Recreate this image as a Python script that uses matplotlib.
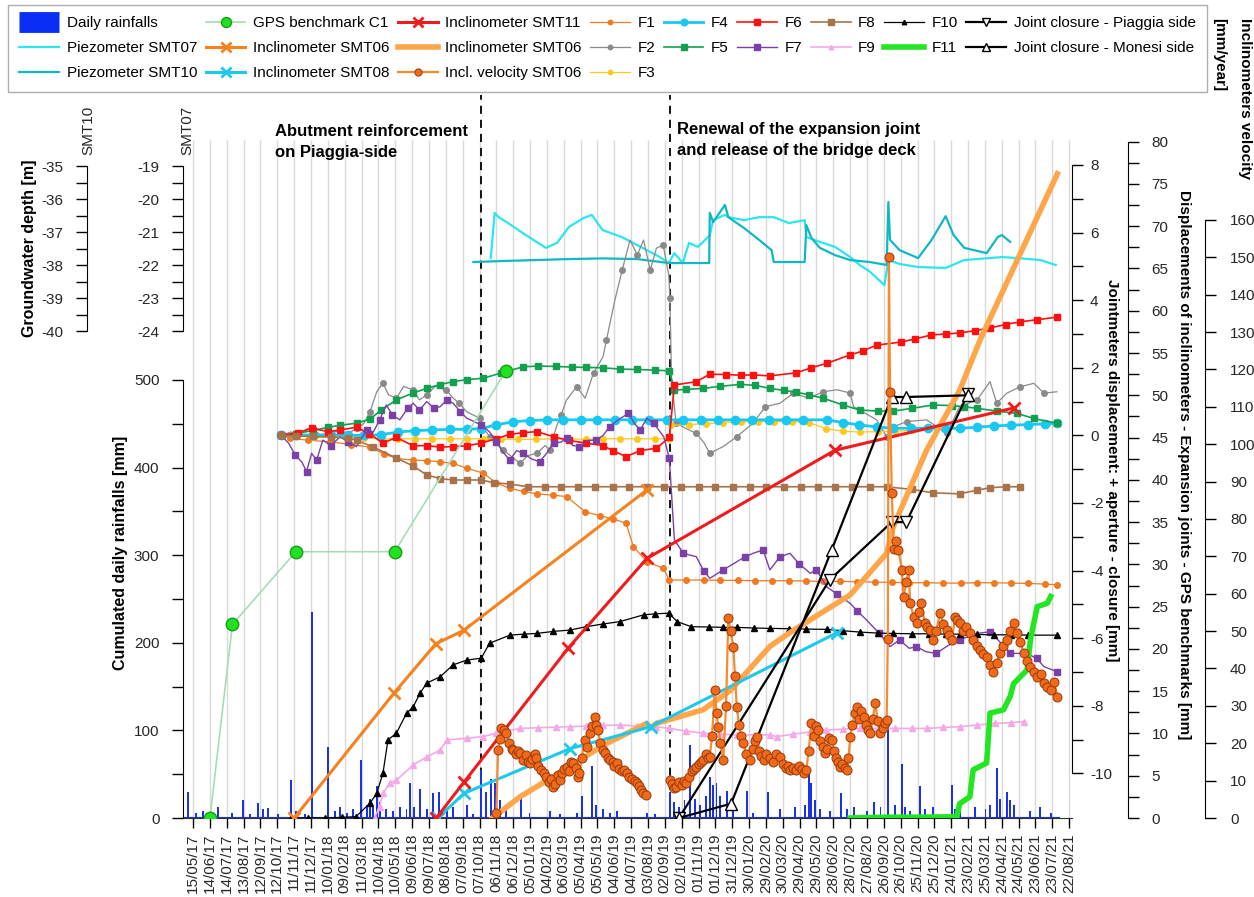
import matplotlib
matplotlib.use('Agg')
import matplotlib.pyplot as plt
from matplotlib.lines import Line2D
from matplotlib.ticker import FixedLocator, FuncFormatter
import numpy as np
import pandas as pd

plt.rcParams['font.family'] = ['Liberation Sans', 'DejaVu Sans']
plt.rcParams['axes.unicode_minus'] = False

# ---------------- DATA ----------------
TICK_LABELS = ['15/05/17', '14/06/17', '14/07/17', '13/08/17', '12/09/17', '12/10/17', '11/11/17', '11/12/17',
               '10/01/18', '09/02/18', '11/03/18', '10/04/18', '10/05/18', '09/06/18', '09/07/18', '08/08/18',
               '07/09/18', '07/10/18', '06/11/18', '06/12/18', '05/01/19', '04/02/19', '06/03/19', '05/04/19',
               '05/05/19', '04/06/19', '04/07/19', '03/08/19', '02/09/19', '02/10/19', '01/11/19', '01/12/19',
               '31/12/19', '30/01/20', '29/02/20', '30/03/20', '29/04/20', '29/05/20', '28/06/20', '28/07/20',
               '27/08/20', '26/09/20', '26/10/20', '25/11/20', '25/12/20', '24/01/21', '23/02/21', '25/03/21',
               '24/04/21', '24/05/21', '23/06/21', '23/07/21', '22/08/21']

EVENT_DATES = ['2018-10-10', '2019-09-11']
EVENT_TEXT = ['Abutment reinforcement\non Piaggia-side', 'Renewal of the expansion joint\nand release of the bridge deck']

RAIN_DATES = ['2017-05-06', '2017-05-21', '2017-06-02', '2017-06-11', '2017-06-29', '2017-07-24', '2017-08-12',
              '2017-08-24', '2017-09-07', '2017-09-16', '2017-09-25', '2017-10-13', '2017-11-06', '2017-11-14',
              '2017-11-30', '2017-12-12', '2018-01-11', '2018-01-23', '2018-02-01', '2018-02-13', '2018-02-23',
              '2018-03-10', '2018-03-20', '2018-03-26', '2018-03-31', '2018-04-07', '2018-04-12', '2018-04-24',
              '2018-05-06', '2018-05-18', '2018-05-30', '2018-06-05', '2018-06-12', '2018-06-23', '2018-07-05',
              '2018-07-17', '2018-07-26', '2018-08-10', '2018-08-21', '2018-09-14', '2018-09-26', '2018-10-10',
              '2018-10-19', '2018-10-28', '2018-11-03', '2018-11-12', '2018-11-24', '2018-12-20', '2019-01-04',
              '2019-02-09', '2019-02-27', '2019-03-29', '2019-04-07', '2019-04-25', '2019-05-03', '2019-05-15',
              '2019-05-27', '2019-06-08', '2019-08-01', '2019-08-16', '2019-09-11', '2019-09-19', '2019-09-28',
              '2019-10-07', '2019-10-16', '2019-10-25', '2019-11-03', '2019-11-15', '2019-11-21', '2019-11-27',
              '2019-12-03', '2019-12-09', '2019-12-21', '2020-01-02', '2020-01-26', '2020-02-06', '2020-03-04',
              '2020-03-25', '2020-04-21', '2020-05-09', '2020-05-15', '2020-05-20', '2020-05-26', '2020-06-04',
              '2020-06-22', '2020-07-12', '2020-07-22', '2020-08-03', '2020-08-27', '2020-09-08', '2020-09-20',
              '2020-10-04', '2020-10-16', '2020-10-28', '2020-11-03', '2020-11-12', '2020-11-29', '2020-12-08',
              '2020-12-22', '2021-01-25', '2021-01-31', '2021-02-08', '2021-03-08', '2021-03-26', '2021-04-03',
              '2021-04-15', '2021-04-21', '2021-05-03', '2021-05-09', '2021-05-15', '2021-06-14', '2021-07-01',
              '2021-07-20']
RAIN_MM = [30, 6, 8, 3, 13, 6, 20, 5, 17, 10, 11, 4, 43, 8, 5, 235, 81, 8, 12, 6, 10, 66, 15, 22, 12, 36, 18,
           10, 8, 12, 10, 40, 12, 33, 10, 28, 30, 8, 12, 15, 5, 55, 30, 45, 40, 20, 12, 24, 6, 8, 5, 6, 25, 59,
           15, 10, 6, 8, 6, 4, 30, 18, 12, 20, 83, 22, 15, 25, 47, 38, 40, 25, 31, 10, 31, 6, 30, 10, 12, 15, 57,
           40, 20, 10, 8, 29, 10, 12, 8, 18, 12, 110, 15, 62, 12, 8, 36, 10, 12, 38, 10, 8, 12, 10, 15, 57, 22,
           30, 20, 15, 8, 12, 6]

SMT07_DATES = ['2018-10-27', '2018-11-03', '2018-11-10', '2018-11-27', '2018-12-23', '2019-02-02', '2019-02-22',
               '2019-03-15', '2019-04-10', '2019-04-25', '2019-05-14', '2019-06-17', '2019-07-21', '2019-08-24',
               '2019-09-09', '2019-09-19', '2019-10-04', '2019-10-15', '2019-10-31', '2019-11-21', '2019-11-27',
               '2019-12-18', '2019-12-24', '2020-01-21', '2020-02-17', '2020-03-14', '2020-04-10', '2020-05-08',
               '2020-05-11', '2020-06-04', '2020-07-01', '2020-07-28', '2020-08-14', '2020-09-01', '2020-09-27',
               '2020-10-04', '2020-10-24', '2020-11-26', '2021-01-14', '2021-02-16', '2021-04-24', '2021-05-22',
               '2021-07-02', '2021-07-29']
SMT07_DEPTH = [-21.79, -20.42, -20.55, -20.73, -21.03, -21.48, -21.33, -20.85, -20.58, -20.48, -20.94, -21.15,
               -21.45, -21.76, -21.94, -21.64, -21.94, -21.33, -21.45, -21.10, -20.64, -20.48, -20.55, -20.64,
               -20.55, -20.55, -20.73, -20.64, -21.15, -21.30, -21.45, -21.76, -22.00, -22.20, -22.61, -21.85,
               -21.97, -22.06, -22.09, -21.85, -21.76, -21.79, -21.85, -22.00]

SMT10_DATES = ['2018-09-26', '2018-11-15', '2019-01-15', '2019-03-15', '2019-05-15', '2019-07-15', '2019-09-09',
               '2019-11-20', '2019-11-21', '2019-11-27', '2019-12-18', '2019-12-24', '2020-01-21', '2020-02-17',
               '2020-03-10', '2020-03-14', '2020-04-10', '2020-05-08', '2020-05-11', '2020-05-20', '2020-06-04',
               '2020-07-01', '2020-07-28', '2020-09-01', '2020-10-01', '2020-10-04', '2020-10-07', '2020-10-24',
               '2020-11-26', '2020-12-20', '2021-01-14', '2021-01-28', '2021-02-16', '2021-03-28', '2021-04-17',
               '2021-04-24', '2021-05-09']
SMT10_DEPTH = [-37.91, -37.88, -37.85, -37.82, -37.80, -37.82, -37.94, -37.94, -36.42, -36.70, -36.18, -36.55,
               -36.88, -37.24, -37.55, -37.91, -37.91, -37.91, -36.79, -37.18, -37.48, -37.70, -37.85, -37.91,
               -38.00, -36.09, -37.24, -37.55, -37.79, -37.24, -36.52, -37.09, -37.48, -37.64, -37.15, -37.09,
               -37.30]

GPS_DATES = ['2017-06-14', '2017-07-24', '2017-11-14', '2018-05-09', '2018-11-23']
GPS_MM = [0.0, 22.9, 31.5, 31.5, 52.9]

SMT06_DATES = ['2017-11-11', '2018-05-08', '2018-07-21', '2018-09-09', '2019-08-01']
SMT06_MM = [0.0, 14.8, 20.6, 22.2, 38.8]
SMT08_DATES = ['2018-07-25', '2018-09-09', '2019-03-17', '2019-08-08', '2020-07-04']
SMT08_MM = [0.0, 2.9, 8.2, 10.8, 21.9]
SMT11_DATES = ['2018-07-22', '2018-09-10', '2019-03-14', '2019-08-01', '2020-07-01', '2021-05-15']
SMT11_MM = [0.0, 4.3, 20.1, 30.7, 43.5, 48.5]

SMT06B_DATES = ['2018-10-30', '2018-12-18', '2019-03-17', '2019-05-15', '2019-08-01', '2019-08-07', '2019-08-18',
                '2019-11-09', '2019-12-28', '2020-03-07', '2020-04-18', '2020-07-28', '2020-10-01', '2020-10-13',
                '2020-12-11', '2021-02-08', '2021-03-16', '2021-08-01']
SMT06B_MM = [0.0, 2.5, 6.1, 8.6, 11.2, 10.6, 11.2, 12.8, 15.1, 20.3, 22.2, 26.4, 31.3, 34.5, 43.5, 50.6, 56.5, 76.2]

VEL_DATES = ['2018-11-06', '2018-11-09', '2018-11-12', '2018-11-15', '2018-11-20', '2018-11-24', '2018-11-29',
             '2018-12-03', '2018-12-06', '2018-12-11', '2018-12-15', '2018-12-18', '2018-12-23', '2018-12-28',
             '2019-01-01', '2019-01-04', '2019-01-09', '2019-01-13', '2019-01-16', '2019-01-20', '2019-01-25',
             '2019-01-29', '2019-02-03', '2019-02-07', '2019-02-11', '2019-02-15', '2019-02-19', '2019-02-23',
             '2019-02-27', '2019-03-03', '2019-03-07', '2019-03-11', '2019-03-15', '2019-03-19', '2019-03-23',
             '2019-03-27', '2019-03-31', '2019-04-03', '2019-04-07', '2019-04-12', '2019-04-16', '2019-04-21',
             '2019-04-25', '2019-04-30', '2019-05-03', '2019-05-06', '2019-05-10', '2019-05-15', '2019-05-19',
             '2019-05-23', '2019-05-27', '2019-06-01', '2019-06-04', '2019-06-08', '2019-06-13', '2019-06-18',
             '2019-06-22', '2019-06-26', '2019-06-30', '2019-07-05', '2019-07-10', '2019-07-14', '2019-07-18',
             '2019-07-22', '2019-07-25', '2019-07-31', '2019-08-20',
             '2019-09-11', '2019-09-15', '2019-09-19', '2019-09-22', '2019-09-27', '2019-10-02', '2019-10-06',
             '2019-10-10', '2019-10-15', '2019-10-20', '2019-10-24', '2019-10-28', '2019-11-02', '2019-11-06',
             '2019-11-09', '2019-11-14', '2019-11-18', '2019-11-21', '2019-11-25', '2019-11-30', '2019-12-03',
             '2019-12-06', '2019-12-10', '2019-12-15', '2019-12-20', '2019-12-24', '2019-12-28', '2020-01-02',
             '2020-01-05', '2020-01-08', '2020-01-12', '2020-01-16', '2020-01-20', '2020-01-25', '2020-02-01',
             '2020-02-06', '2020-02-10', '2020-02-13', '2020-02-17', '2020-02-21', '2020-02-25', '2020-03-01',
             '2020-03-07', '2020-03-12', '2020-03-18', '2020-03-25', '2020-03-30', '2020-04-04', '2020-04-08',
             '2020-04-12', '2020-04-17', '2020-04-23', '2020-04-28', '2020-05-03', '2020-05-07', '2020-05-11',
             '2020-05-15', '2020-05-20', '2020-05-24', '2020-05-28', '2020-06-01', '2020-06-05', '2020-06-09',
             '2020-06-13', '2020-06-17', '2020-06-21', '2020-06-25', '2020-06-29', '2020-07-03', '2020-07-07',
             '2020-07-10', '2020-07-14', '2020-07-18', '2020-07-22', '2020-07-25', '2020-07-28', '2020-08-01',
             '2020-08-05', '2020-08-09', '2020-08-13', '2020-08-17', '2020-08-21', '2020-08-25', '2020-08-29',
             '2020-09-02', '2020-09-06', '2020-09-11', '2020-09-15', '2020-09-20', '2020-09-24', '2020-09-28',
             '2020-10-01', '2020-10-03', '2020-10-05', '2020-10-07', '2020-10-10', '2020-10-14', '2020-10-18',
             '2020-10-22', '2020-10-28', '2020-10-31', '2020-11-05', '2020-11-09', '2020-11-12', '2020-11-18',
             '2020-11-24', '2020-11-28', '2020-12-02', '2020-12-08', '2020-12-12', '2020-12-17', '2020-12-23',
             '2020-12-28', '2021-01-04', '2021-01-10', '2021-01-16', '2021-01-20', '2021-01-25', '2021-01-31',
             '2021-02-04', '2021-02-08', '2021-02-14', '2021-02-20', '2021-02-26', '2021-03-04', '2021-03-10',
             '2021-03-16', '2021-03-22', '2021-03-28', '2021-04-03', '2021-04-09', '2021-04-15', '2021-04-21',
             '2021-04-27', '2021-05-03', '2021-05-09', '2021-05-15', '2021-05-21', '2021-05-27', '2021-06-02',
             '2021-06-08', '2021-06-14', '2021-06-20', '2021-06-26', '2021-07-02', '2021-07-08', '2021-07-14',
             '2021-07-20', '2021-07-26', '2021-08-01']
VEL_MMY = [1.3, 18.2, 21.0, 24.0, 23.5, 22.7, 20.0, 18.5, 18.2, 17.0, 18.0, 17.3, 15.5, 16.8, 15.0, 14.6, 15.8,
           17.0, 16.0, 14.0, 12.8, 12.0, 11.1, 9.5, 10.5, 8.4, 9.0, 11.5, 10.2, 12.0, 13.0, 13.7, 12.5, 15.0,
           14.6, 13.5, 11.0, 12.0, 16.0, 20.9, 19.0, 22.7, 24.5, 27.1, 25.0, 23.5, 20.0, 18.2, 17.5, 16.0, 15.5,
           15.0, 14.0, 14.6, 13.2, 12.5, 12.8, 12.0, 11.0, 10.5, 9.8, 9.3, 8.5, 7.5, 6.6, 6.2, np.nan,
           10.2, 9.0, 8.0, 8.4, 9.5, 8.8, 10.0, 9.3, 11.0, 12.5, 13.0, 13.7, 14.5, 15.0, 15.5, 17.0, 16.0, 16.4,
           22.0, 34.2, 28.0, 24.4, 20.0, 15.5, 30.0, 53.4, 50.0, 45.8, 38.0, 29.8, 25.0, 22.0, 20.0, 17.0, 15.5,
           18.5, 20.5, 21.8, 18.0, 16.5, 15.5, 17.0, 16.0, 15.0, 17.0, 16.4, 14.5, 13.5, 14.0, 12.8, 13.5, 12.8,
           14.0, 13.0, 12.0, 12.8, 18.0, 25.3, 22.0, 24.5, 23.5, 20.5, 19.0, 17.3, 18.5, 21.5, 20.9, 18.0, 16.0,
           15.0, 13.7, 14.5, 13.5, 12.8, 16.0, 21.8, 25.0, 28.0, 29.8, 26.5, 28.5, 27.1, 25.0, 23.5, 22.7, 26.5,
           30.7, 26.0, 22.7, 24.0, 25.5, 26.2, 48.0, 150.0, 114.0, 87.0, 72.0, 74.0, 71.7, 66.4, 59.2, 63.0,
           66.4, 57.4, 53.9, 52.1, 55.0, 57.4, 52.1, 51.0, 50.3, 47.6, 50.0, 54.8, 52.0, 50.3, 49.0, 47.6, 53.9,
           53.0, 52.1, 50.0, 51.2, 49.5, 47.6, 46.0, 45.0, 44.0, 43.2, 41.0, 39.1, 41.5, 44.1, 46.0, 47.6, 50.0,
           52.1, 49.4, 47.0, 44.1, 42.0, 40.5, 39.0, 37.8, 38.5, 36.0, 35.0, 34.2, 36.5, 32.5]

JC_PIAGGIA_DATES = ['2019-09-27', '2020-06-22', '2020-10-10', '2020-11-05', '2021-02-23']
JC_PIAGGIA_MM = [0.0, 28.2, 35.0, 35.0, 50.2]
JC_MONESI_DATES = ['2019-09-27', '2019-12-29', '2020-06-25', '2020-10-10', '2020-11-05', '2021-02-23']
JC_MONESI_MM = [0.0, 1.7, 31.7, 49.8, 49.8, 50.0]

F1_DATES = ['2017-10-19', '2017-11-03', '2017-12-05', '2018-01-13', '2018-02-20', '2018-03-26', '2018-04-20',
            '2018-05-12', '2018-06-10', '2018-07-05', '2018-07-28', '2018-08-21', '2018-09-14', '2018-10-14',
            '2018-11-05', '2018-11-30', '2018-12-25', '2019-01-17', '2019-02-15', '2019-03-11', '2019-04-13',
            '2019-05-10', '2019-06-02', '2019-06-25', '2019-07-08', '2019-08-01', '2019-08-30', '2019-09-10',
            '2019-10-10', '2019-11-10', '2019-12-10', '2020-01-10', '2020-02-10', '2020-03-10', '2020-04-10',
            '2020-05-10', '2020-06-10', '2020-07-10', '2020-08-10', '2020-09-10', '2020-10-10', '2020-11-10',
            '2020-12-10', '2021-01-10', '2021-02-10', '2021-03-10', '2021-04-10', '2021-05-10', '2021-06-10',
            '2021-07-10', '2021-07-31']
F1_MM = [0.0, -0.09, -0.14, -0.19, -0.27, -0.35, -0.55, -0.68, -0.73, -0.75, -0.78, -0.83, -0.97, -1.12, -1.40,
         -1.57, -1.66, -1.73, -1.77, -1.81, -2.26, -2.38, -2.47, -2.60, -3.29, -3.74, -3.93, -4.28, -4.28, -4.28,
         -4.29, -4.29, -4.30, -4.30, -4.30, -4.31, -4.32, -4.32, -4.33, -4.34, -4.35, -4.36, -4.36, -4.37, -4.37,
         -4.36, -4.36, -4.37, -4.38, -4.40, -4.42]

F2_DATES = ['2017-10-19', '2017-11-05', '2017-11-18', '2017-12-05', '2017-12-20', '2018-01-11', '2018-02-01',
            '2018-02-15', '2018-03-02', '2018-03-15', '2018-03-26', '2018-04-07', '2018-04-18', '2018-04-28',
            '2018-05-12', '2018-05-25', '2018-06-11', '2018-06-22', '2018-07-05', '2018-07-20', '2018-08-09',
            '2018-08-21', '2018-09-01', '2018-09-14', '2018-10-07', '2018-10-10', '2018-10-25', '2018-11-05',
            '2018-11-18', '2018-12-01', '2018-12-18', '2019-01-01', '2019-01-17', '2019-02-01', '2019-02-09',
            '2019-02-21', '2019-03-01', '2019-03-11', '2019-03-29', '2019-04-13', '2019-04-28', '2019-05-15',
            '2019-05-21', '2019-06-05', '2019-06-18', '2019-07-02', '2019-07-15', '2019-07-26', '2019-08-07',
            '2019-08-18', '2019-08-30', '2019-09-09', '2019-09-11', '2019-09-14', '2019-09-22', '2019-10-10',
            '2019-10-28', '2019-11-10', '2019-11-21', '2019-12-15', '2020-01-08', '2020-02-06', '2020-02-28',
            '2020-03-25', '2020-04-18', '2020-05-15', '2020-06-10', '2020-07-05', '2020-07-28', '2020-08-03',
            '2020-08-14', '2020-09-13', '2020-10-01', '2020-10-20', '2020-11-06', '2020-12-11', '2021-01-16',
            '2021-02-08', '2021-03-11', '2021-04-03', '2021-04-15', '2021-05-03', '2021-05-27', '2021-06-20',
            '2021-07-08', '2021-07-31']
F2_MM = [0.0, 0.1, 0.04, 0.2, 0.0, 0.06, 0.15, 0.05, 0.21, 0.35, 0.7, 1.29, 1.54, 1.2, 1.1, 1.45, 1.34, 1.05,
         1.2, 1.45, 1.34, 1.1, 0.95, 0.7, 0.51, 0.31, -0.04, -0.2, -0.43, -0.6, -0.83, -0.6, -0.53, -0.3, -0.43,
         0.26, 0.6, 1.05, 1.44, 1.1, 1.84, 2.33, 2.82, 4.0, 4.89, 5.78, 5.34, 5.78, 4.89, 5.54, 5.63, 4.74, 4.06,
         1.64, 0.36, 0.2, 0.06, -0.2, -0.53, -0.33, -0.04, 0.36, 0.85, 0.95, 1.25, 1.1, 1.29, 1.35, 1.25, 0.85,
         0.75, 0.46, -0.04, 0.3, 0.41, 0.46, 0.06, 0.85, 1.05, 1.59, 0.95, 1.25, 1.44, 1.54, 1.25, 1.29]

F3_DATES = ['2017-10-19', '2017-11-15', '2017-12-15', '2018-01-15', '2018-02-15', '2018-03-15', '2018-04-15',
            '2018-05-15', '2018-06-15', '2018-07-15', '2018-08-15', '2018-09-15', '2018-10-15', '2018-11-15',
            '2018-12-15', '2019-01-15', '2019-02-15', '2019-03-15', '2019-04-15', '2019-05-15', '2019-06-15',
            '2019-07-15', '2019-08-15', '2019-09-10', '2019-09-13', '2019-10-15', '2019-11-15', '2019-12-15',
            '2020-01-15', '2020-02-15', '2020-03-15', '2020-04-15', '2020-05-15', '2020-06-15', '2020-07-15',
            '2020-08-15', '2020-09-15', '2020-10-15', '2020-11-15']
F3_MM = [0.0, -0.02, -0.04, -0.05, -0.06, -0.08, -0.1, -0.1, -0.1, -0.1, -0.1, -0.1, -0.1, -0.11, -0.12, -0.12,
         -0.1, -0.1, -0.12, -0.1, -0.1, -0.1, -0.1, -0.1, 0.3, 0.32, 0.35, 0.38, 0.4, 0.41, 0.41, 0.41, 0.38, 0.2,
         0.12, 0.1, 0.11, 0.12, 0.15]

F4_DATES = ['2017-10-19', '2017-11-15', '2017-12-15', '2018-01-15', '2018-02-15', '2018-03-15', '2018-04-15',
            '2018-05-15', '2018-06-15', '2018-07-15', '2018-08-15', '2018-09-15', '2018-10-10', '2018-11-05',
            '2018-12-05', '2019-01-05', '2019-02-05', '2019-03-05', '2019-04-05', '2019-05-05', '2019-06-05',
            '2019-07-05', '2019-08-05', '2019-09-05', '2019-10-05', '2019-11-05', '2019-12-05', '2020-01-05',
            '2020-02-05', '2020-03-05', '2020-04-05', '2020-05-05', '2020-06-16', '2020-07-15', '2020-08-13',
            '2020-09-13', '2020-10-13', '2020-11-13', '2020-12-13', '2021-01-13', '2021-02-08', '2021-03-10',
            '2021-04-10', '2021-05-10', '2021-06-10', '2021-07-10', '2021-07-31']
F4_MM = [0.0, 0.0, 0.02, 0.0, 0.0, 0.0, 0.02, 0.1, 0.14, 0.16, 0.18, 0.18, 0.2, 0.31, 0.4, 0.44, 0.46, 0.46,
         0.46, 0.46, 0.46, 0.46, 0.46, 0.46, 0.46, 0.46, 0.46, 0.46, 0.46, 0.46, 0.46, 0.46, 0.46, 0.38, 0.31,
         0.25, 0.21, 0.21, 0.21, 0.21, 0.21, 0.24, 0.28, 0.3, 0.32, 0.34, 0.36]

F5_DATES = ['2017-10-19', '2017-11-15', '2017-12-15', '2018-01-11', '2018-02-01', '2018-03-02', '2018-03-26',
            '2018-04-15', '2018-05-12', '2018-06-10', '2018-07-05', '2018-07-28', '2018-08-21', '2018-09-15',
            '2018-10-14', '2018-11-15', '2018-12-24', '2019-01-20', '2019-02-20', '2019-03-20', '2019-04-15',
            '2019-05-15', '2019-06-15', '2019-07-15', '2019-08-15', '2019-09-10', '2019-09-19', '2019-10-10',
            '2019-11-09', '2019-12-10', '2020-01-14', '2020-02-10', '2020-03-07', '2020-04-01', '2020-04-23',
            '2020-05-15', '2020-06-10', '2020-07-15', '2020-08-14', '2020-09-15', '2020-10-13', '2020-11-15',
            '2020-12-23', '2021-01-25', '2021-02-15', '2021-03-11', '2021-04-15', '2021-05-21', '2021-06-20',
            '2021-07-31']
F5_MM = [0.0, 0.05, 0.15, 0.24, 0.3, 0.36, 0.48, 0.75, 1.05, 1.25, 1.39, 1.5, 1.59, 1.65, 1.69, 1.85, 2.03,
         2.05, 2.04, 2.02, 2.01, 2.0, 1.96, 1.95, 1.93, 1.91, 1.34, 1.36, 1.39, 1.45, 1.51, 1.48, 1.39, 1.33,
         1.28, 1.2, 1.1, 0.9, 0.75, 0.72, 0.72, 0.8, 0.9, 0.88, 0.85, 0.8, 0.72, 0.65, 0.5, 0.36]

F6_DATES = ['2017-10-19', '2017-11-18', '2017-12-12', '2018-01-11', '2018-02-01', '2018-03-02', '2018-03-25',
            '2018-04-18', '2018-05-12', '2018-06-11', '2018-07-05', '2018-07-29', '2018-08-21', '2018-09-14',
            '2018-10-10', '2018-11-05', '2018-11-30', '2018-12-24', '2019-01-17', '2019-02-16', '2019-03-15',
            '2019-04-15', '2019-05-15', '2019-06-01', '2019-06-25', '2019-07-20', '2019-08-18', '2019-09-10',
            '2019-09-19', '2019-10-28', '2019-11-21', '2019-12-20', '2020-01-15', '2020-02-06', '2020-03-07',
            '2020-04-23', '2020-05-20', '2020-06-16', '2020-07-28', '2020-08-20', '2020-09-13', '2020-10-26',
            '2020-11-20', '2020-12-19', '2021-01-15', '2021-02-08', '2021-03-08', '2021-04-03', '2021-05-01',
            '2021-05-27', '2021-06-25', '2021-08-01']
F6_MM = [0.0, 0.08, 0.21, 0.11, 0.16, 0.24, 0.05, -0.23, -0.06, -0.31, -0.3, -0.35, -0.33, -0.31, -0.23, -0.1,
         0.03, 0.08, 0.11, -0.04, -0.15, -0.23, -0.3, -0.45, -0.63, -0.45, -0.38, -0.06, 1.49, 1.59, 1.81, 1.8,
         1.78, 1.79, 1.76, 1.85, 2.0, 2.13, 2.38, 2.5, 2.67, 2.76, 2.85, 2.97, 3.0, 3.03, 3.1, 3.18, 3.28, 3.36,
         3.42, 3.5]

F7_DATES = ['2017-10-19', '2017-11-01', '2017-11-13', '2017-11-25', '2017-12-03', '2017-12-12', '2017-12-21',
            '2018-01-01', '2018-01-15', '2018-02-01', '2018-02-15', '2018-03-02', '2018-03-20', '2018-04-01',
            '2018-04-12', '2018-04-24', '2018-05-05', '2018-05-18', '2018-06-01', '2018-06-11', '2018-06-22',
            '2018-07-05', '2018-07-18', '2018-07-29', '2018-08-10', '2018-08-21', '2018-09-03', '2018-09-14',
            '2018-10-10', '2018-10-25', '2018-11-06', '2018-11-18', '2018-11-30', '2018-12-12', '2018-12-24',
            '2019-01-08', '2019-01-22', '2019-02-05', '2019-02-16', '2019-03-01', '2019-03-11', '2019-03-22',
            '2019-04-03', '2019-04-18', '2019-05-03', '2019-05-15', '2019-05-27', '2019-06-10', '2019-06-29',
            '2019-07-10', '2019-07-20', '2019-08-01', '2019-08-13', '2019-08-31', '2019-09-10', '2019-09-19',
            '2019-10-05', '2019-10-28', '2019-11-10', '2019-11-21', '2019-12-15', '2020-01-08', '2020-01-22',
            '2020-02-06', '2020-02-24', '2020-03-07', '2020-03-25', '2020-04-12', '2020-04-28', '2020-05-18',
            '2020-05-29', '2020-06-16', '2020-07-05', '2020-07-28', '2020-08-10', '2020-08-26', '2020-09-18',
            '2020-10-07', '2020-10-24', '2020-11-10', '2020-11-23', '2020-12-10', '2020-12-28', '2021-01-20',
            '2021-02-08', '2021-03-11', '2021-04-03', '2021-04-20', '2021-05-09', '2021-06-08', '2021-06-25',
            '2021-07-08', '2021-07-31']
F7_MM = [0.0, -0.23, -0.58, -0.8, -1.07, -0.53, -0.73, -0.14, -0.3, -0.04, -0.2, -0.33, 0.16, 0.1, 0.46, 0.9,
         0.6, 0.46, 0.8, 0.95, 0.75, 1.0, 0.8, 0.85, 1.05, 0.95, 0.7, 0.51, 0.31, 0.1, -0.19, -0.5, -0.73, -0.45,
         -0.53, -0.7, -0.78, -0.5, -0.23, -0.2, -0.09, -0.3, -0.33, -0.15, -0.14, 0.0, 0.26, 0.45, 0.65, 0.35,
         0.16, 0.5, 0.36, -0.04, -0.68, -3.09, -3.49, -3.59, -4.0, -4.23, -3.98, -3.74, -3.6, -3.49, -3.39, -3.98,
         -3.59, -3.49, -3.8, -4.08, -3.98, -4.48, -4.7, -4.97, -5.2, -5.46, -5.86, -6.25, -6.05, -6.3, -6.25,
         -6.4, -6.45, -6.2, -6.05, -5.86, -5.81, -6.1, -6.45, -6.45, -6.6, -6.84, -6.99]

F8_DATES = ['2017-10-19', '2017-11-15', '2017-12-15', '2018-01-15', '2018-02-15', '2018-03-02', '2018-04-01',
            '2018-05-12', '2018-06-10', '2018-07-05', '2018-07-29', '2018-08-21', '2018-09-15', '2018-10-10',
            '2018-11-01', '2018-11-30', '2019-01-01', '2019-02-01', '2019-03-01', '2019-04-01', '2019-05-01',
            '2019-06-01', '2019-07-01', '2019-08-01', '2019-09-01', '2019-10-01', '2019-11-01', '2019-12-01',
            '2020-01-01', '2020-02-01', '2020-03-01', '2020-04-01', '2020-05-01', '2020-06-01', '2020-07-01',
            '2020-08-01', '2020-09-01', '2020-10-01', '2020-11-15', '2020-12-23', '2021-02-08', '2021-03-11',
            '2021-04-03', '2021-05-01', '2021-05-27']
F8_MM = [0.0, -0.02, -0.03, -0.05, -0.08, -0.14, -0.35, -0.67, -0.9, -1.17, -1.28, -1.32, -1.32, -1.32, -1.4,
         -1.44, -1.52, -1.52, -1.52, -1.52, -1.52, -1.52, -1.52, -1.52, -1.52, -1.52, -1.52, -1.52, -1.52, -1.52,
         -1.52, -1.52, -1.52, -1.52, -1.52, -1.52, -1.52, -1.52, -1.6, -1.7, -1.73, -1.62, -1.55, -1.52, -1.52]

F9_DATES = ['2018-04-03', '2018-04-12', '2018-04-18', '2018-04-30', '2018-05-12', '2018-06-11', '2018-07-05',
            '2018-07-29', '2018-08-10', '2018-09-14', '2018-10-14', '2018-11-06', '2018-12-18', '2019-01-20',
            '2019-02-20', '2019-03-17', '2019-04-15', '2019-05-15', '2019-06-14', '2019-07-15', '2019-08-18',
            '2019-09-10', '2019-10-10', '2019-11-09', '2019-12-10', '2020-01-08', '2020-02-08', '2020-03-07',
            '2020-03-19', '2020-04-18', '2020-05-18', '2020-06-15', '2020-07-15', '2020-08-14', '2020-09-15',
            '2020-10-15', '2020-11-15', '2020-12-11', '2021-01-10', '2021-02-08', '2021-03-10', '2021-04-11',
            '2021-05-10', '2021-06-02']
F9_MM = [-11.32, -10.98, -10.59, -10.29, -10.2, -9.75, -9.51, -9.31, -9.01, -8.96, -8.91, -8.81, -8.67, -8.65,
         -8.63, -8.62, -8.6, -8.58, -8.57, -8.6, -8.62, -8.67, -8.75, -8.81, -8.84, -8.86, -8.86, -8.86, -8.91,
         -8.84, -8.77, -8.72, -8.69, -8.67, -8.67, -8.67, -8.67, -8.67, -8.64, -8.62, -8.57, -8.52, -8.5, -8.47]

F10_DATES = ['2017-11-05', '2017-12-05', '2018-01-05', '2018-02-05', '2018-03-01', '2018-03-26', '2018-04-07',
             '2018-04-18', '2018-04-27', '2018-05-12', '2018-05-30', '2018-06-11', '2018-06-23', '2018-07-05',
             '2018-07-29', '2018-08-21', '2018-09-14', '2018-10-10', '2018-10-25', '2018-11-30', '2018-12-25',
             '2019-01-17', '2019-02-15', '2019-03-17', '2019-04-15', '2019-05-15', '2019-06-14', '2019-07-26',
             '2019-08-15', '2019-09-09', '2019-09-24', '2019-10-19', '2019-11-20', '2019-12-15', '2020-01-08',
             '2020-02-08', '2020-03-07', '2020-04-10', '2020-05-10', '2020-06-16', '2020-07-15', '2020-08-15',
             '2020-09-15', '2020-10-13', '2020-11-15', '2020-12-15', '2021-01-15', '2021-02-08', '2021-03-10',
             '2021-04-10', '2021-05-10', '2021-06-10', '2021-07-31']
F10_MM = [-11.32, -11.32, -11.32, -11.3, -11.28, -10.88, -10.59, -10.0, -9.01, -8.81, -8.22, -8.03, -7.63, -7.33,
          -7.14, -6.79, -6.65, -6.59, -6.15, -5.91, -5.88, -5.86, -5.8, -5.76, -5.66, -5.58, -5.51, -5.31, -5.28,
          -5.26, -5.51, -5.66, -5.67, -5.68, -5.68, -5.7, -5.71, -5.72, -5.73, -5.74, -5.78, -5.82, -5.85, -5.86,
          -5.87, -5.87, -5.88, -5.88, -5.89, -5.9, -5.9, -5.91, -5.91]

F11_DATES = ['2020-07-28', '2020-10-01', '2020-12-01', '2021-02-03', '2021-02-08', '2021-02-26', '2021-03-04',
             '2021-03-28', '2021-04-03', '2021-04-27', '2021-05-09', '2021-05-15', '2021-06-08', '2021-06-14',
             '2021-06-26', '2021-07-14', '2021-07-20']
F11_MM = [0.0, 0.1, 0.1, 0.15, 1.7, 2.5, 5.7, 6.5, 12.4, 12.8, 14.4, 15.9, 17.5, 21.1, 25.0, 25.4, 26.2]

# ---------------- FIGURE ----------------
W, H = 1254, 897
fig = plt.figure(figsize=(W / 100, H / 100), dpi=100)
PT = 0.72  # points per pixel
TXT = '#262626'
RAIN_C = '#1b33e6'


def fx(px):
    return px / W


def fy(py):
    return 1 - py / H


d = pd.to_datetime
ax = fig.add_axes([fx(183), fy(818), 889 / W, 723 / H])
ax.set_xlim(d('2017-04-27'), d('2021-08-27'))
ax.set_ylim(0, 825.3)

tick_dates = pd.to_datetime(TICK_LABELS, format='%d/%m/%y')
ax.vlines(tick_dates, 0, 774, color='#d9d9d9', lw=1, zorder=0)
for ed in EVENT_DATES:
    ax.axvline(d(ed), color='black', lw=1.3, ls=(0, (4.5, 3.3)), zorder=1)

ax.bar(d(RAIN_DATES), RAIN_MM, width=3.5, color=RAIN_C, zorder=2)
ax.hlines(0, d('2017-04-29'), d('2021-08-05'), color=RAIN_C, lw=1.5, zorder=2)

ax.set_xticks(tick_dates)
ax.set_xticklabels(TICK_LABELS, rotation=90)
ax.tick_params(axis='x', direction='out', length=7, width=1, labelsize=11, labelcolor=TXT, pad=4)
for s in ['top', 'right']:
    ax.spines[s].set_visible(False)
ax.spines['bottom'].set_color('#303030')
ax.spines['left'].set_bounds(0, 500)
ax.yaxis.set_major_locator(FixedLocator([0, 100, 200, 300, 400, 500]))
ax.yaxis.set_minor_locator(FixedLocator([50, 150, 250, 350, 450]))
ax.tick_params(axis='y', which='both', direction='out', length=8, width=1, labelsize=11, labelcolor=TXT, pad=9)
ax.yaxis.set_major_formatter(FuncFormatter(lambda v, p: '%d' % v))


def make_twin(side, ylim, bounds, major, minor, offset_px, pad, fmt):
    a = ax.twinx()
    a.set_ylim(*ylim)
    for s in ['top', 'bottom', 'left', 'right']:
        a.spines[s].set_visible(False)
    sp = a.spines[side]
    sp.set_visible(True)
    sp.set_bounds(*bounds)
    sp.set_position(('outward', offset_px * PT))
    if side == 'left':
        a.yaxis.tick_left()
    else:
        a.yaxis.tick_right()
    a.yaxis.set_major_locator(FixedLocator(major))
    a.yaxis.set_minor_locator(FixedLocator(minor))
    a.yaxis.set_major_formatter(FuncFormatter(fmt))
    a.tick_params(axis='y', which='both', direction='out', length=8, width=1, labelsize=11,
                  labelcolor=TXT, pad=pad)
    return a


intf = lambda v, p: '%d' % round(v)
ax07 = make_twin('left', (-38.758, -16.848), (-24, -19), [-24, -23, -22, -21, -20, -19],
                 [-23.5, -22.5, -21.5, -20.5, -19.5], 0, 9, intf)
ax10 = make_twin('left', (-54.758, -32.848), (-40, -35), [-40, -39, -38, -37, -36, -35],
                 [-39.5, -38.5, -37.5, -36.5, -35.5], 96, 9, intf)
axJ = make_twin('right', (-11.32, 10.07), (-10, 8), list(range(-10, 9, 2)), list(range(-9, 8, 2)), 0, 5, intf)
axD = make_twin('right', (0, 85.52), (0, 80), list(range(0, 81, 5)), [2.5 + 5 * i for i in range(16)], 56, 9,
                intf)
axV = make_twin('right', (0, 193.4), (0, 160), list(range(0, 161, 10)), [], 133, 10, intf)

# piezometers
l07, = ax07.plot(d(SMT07_DATES), SMT07_DEPTH, color='#2ae6ee', lw=1.6)
l10, = ax10.plot(d(SMT10_DATES), SMT10_DEPTH, color='#10b8c4', lw=1.6)

# jointmeters
lF1, = axJ.plot(d(F1_DATES), F1_MM, color='#f07a22', marker='o', ms=4, lw=0.9)
lF2, = axJ.plot(d(F2_DATES), F2_MM, color='#8a8a8a', marker='o', ms=4, lw=0.9, markevery=2)
lF3, = axJ.plot(d(F3_DATES), F3_MM, color='#ffc81e', marker='o', ms=4, lw=0.9)
lF4, = axJ.plot(d(F4_DATES), F4_MM, color='#18c8f0', marker='o', ms=6, lw=2.0)
lF5, = axJ.plot(d(F5_DATES), F5_MM, color='#12a050', marker='s', ms=5, lw=1.2)
lF6, = axJ.plot(d(F6_DATES), F6_MM, color='#ff1010', marker='s', ms=5, lw=1.2)
lF7, = axJ.plot(d(F7_DATES), F7_MM, color='#7a40a8', marker='s', ms=5, lw=1.0, markevery=2)
lF8, = axJ.plot(d(F8_DATES), F8_MM, color='#a8734a', marker='s', ms=5, lw=1.2)
lF9, = axJ.plot(d(F9_DATES), F9_MM, color='#f4a8e6', marker='^', ms=4, lw=1.2)
lF10, = axJ.plot(d(F10_DATES), F10_MM, color='black', marker='^', ms=4, lw=0.9)

# displacement axis series
lgps, = axD.plot(d(GPS_DATES), GPS_MM, color='#a8dcb4', lw=1.2, marker='o', ms=9, mfc='#22e022', mec='#14a014')
lF11, = axD.plot(d(F11_DATES), F11_MM, color='#22e622', lw=4)
l06b, = axD.plot(d(SMT06B_DATES), SMT06B_MM, color='#ffa64a', lw=4)
l06, = axD.plot(d(SMT06_DATES), SMT06_MM, color='#f5821f', lw=2.2, marker='x', ms=9, mew=2)
l08, = axD.plot(d(SMT08_DATES), SMT08_MM, color='#1cc8ec', lw=2.2, marker='x', ms=9, mew=2)
l11, = axD.plot(d(SMT11_DATES), SMT11_MM, color='#ee1c1c', lw=2.2, marker='x', ms=9, mew=2)
lpia, = axD.plot(d(JC_PIAGGIA_DATES), JC_PIAGGIA_MM, color='black', lw=1.6, marker='v', ms=8, mfc='white',
                 mec='black')
lmon, = axD.plot(d(JC_MONESI_DATES), JC_MONESI_MM, color='black', lw=1.6, marker='^', ms=8, mfc='white',
                 mec='black')

# velocity
lvel, = axV.plot(d(VEL_DATES), VEL_MMY, color='#f58a30', lw=1.6, marker='o', ms=6.5, mfc='#f06a1a',
                 mec='#9a3a08', mew=0.7)

# ---------------- TEXT ----------------
fig.text(fx(275), fy(124), EVENT_TEXT[0], fontsize=12, fontweight='bold', va='top', ha='left', linespacing=1.5)
fig.text(fx(677), fy(122), EVENT_TEXT[1], fontsize=12, fontweight='bold', va='top', ha='left', linespacing=1.5)
fig.text(fx(30), fy(248), 'Groundwater depth [m]', rotation=90, fontsize=11.5, fontweight='bold',
         ha='center', va='center')
fig.text(fx(121), fy(553), 'Cumulated daily rainfalls [mm]', rotation=90, fontsize=11.5, fontweight='bold',
         ha='center', va='center')
fig.text(fx(88), fy(130), 'SMT10', rotation=90, fontsize=11, color=TXT, ha='center', va='center')
fig.text(fx(187), fy(130), 'SMT07', rotation=90, fontsize=11, color=TXT, ha='center', va='center')
fig.text(fx(1112), fy(470), 'Jointmeters displacement: + aperture - closure [mm]', rotation=270,
         fontsize=11, fontweight='bold', ha='center', va='center')
fig.text(fx(1184), fy(465), 'Displacements of inclinometers - Expansion joints - GPS benchmarks [mm]',
         rotation=270, fontsize=11, fontweight='bold', ha='center', va='center')
fig.text(fx(1245), fy(18), 'Inclinometers velocity', rotation=270, fontsize=11, fontweight='bold',
         ha='center', va='top')
fig.text(fx(1219), fy(18), '[mm/year]', rotation=270, fontsize=11, fontweight='bold', ha='center', va='top')

# ---------------- LEGEND ----------------
rain_handle = Line2D([], [], color='#0a2ef5', lw=15, solid_capstyle='butt')
handles = [rain_handle, l07, l10, lgps, l06, l08, l11, l06b, lvel,
           lF1, lF2, lF3, lF4, lF5, lF6, lF7, lF8, lF9, lF10, lF11, lpia, lmon]
labels = ['Daily rainfalls', 'Piezometer SMT07', 'Piezometer SMT10', 'GPS benchmark C1', 'Inclinometer SMT06',
          'Inclinometer SMT08', 'Inclinometer SMT11', 'Inclinometer SMT06', 'Incl. velocity SMT06',
          'F1', 'F2', 'F3', 'F4', 'F5', 'F6', 'F7', 'F8', 'F9', 'F10', 'F11',
          'Joint closure - Piaggia side', 'Joint closure - Monesi side']
leg = fig.legend(handles, labels, loc='upper left', bbox_to_anchor=(fx(8), fy(5)), ncol=9, fontsize=11,
                 frameon=True, fancybox=False, edgecolor='#9a9a9a', borderaxespad=0, handlelength=2.6,
                 handletextpad=0.5, columnspacing=0.55, labelspacing=0.72, borderpad=0.75, markerscale=0.8)
leg.get_frame().set_linewidth(1.0)

fig.savefig('out.png', dpi=100)
